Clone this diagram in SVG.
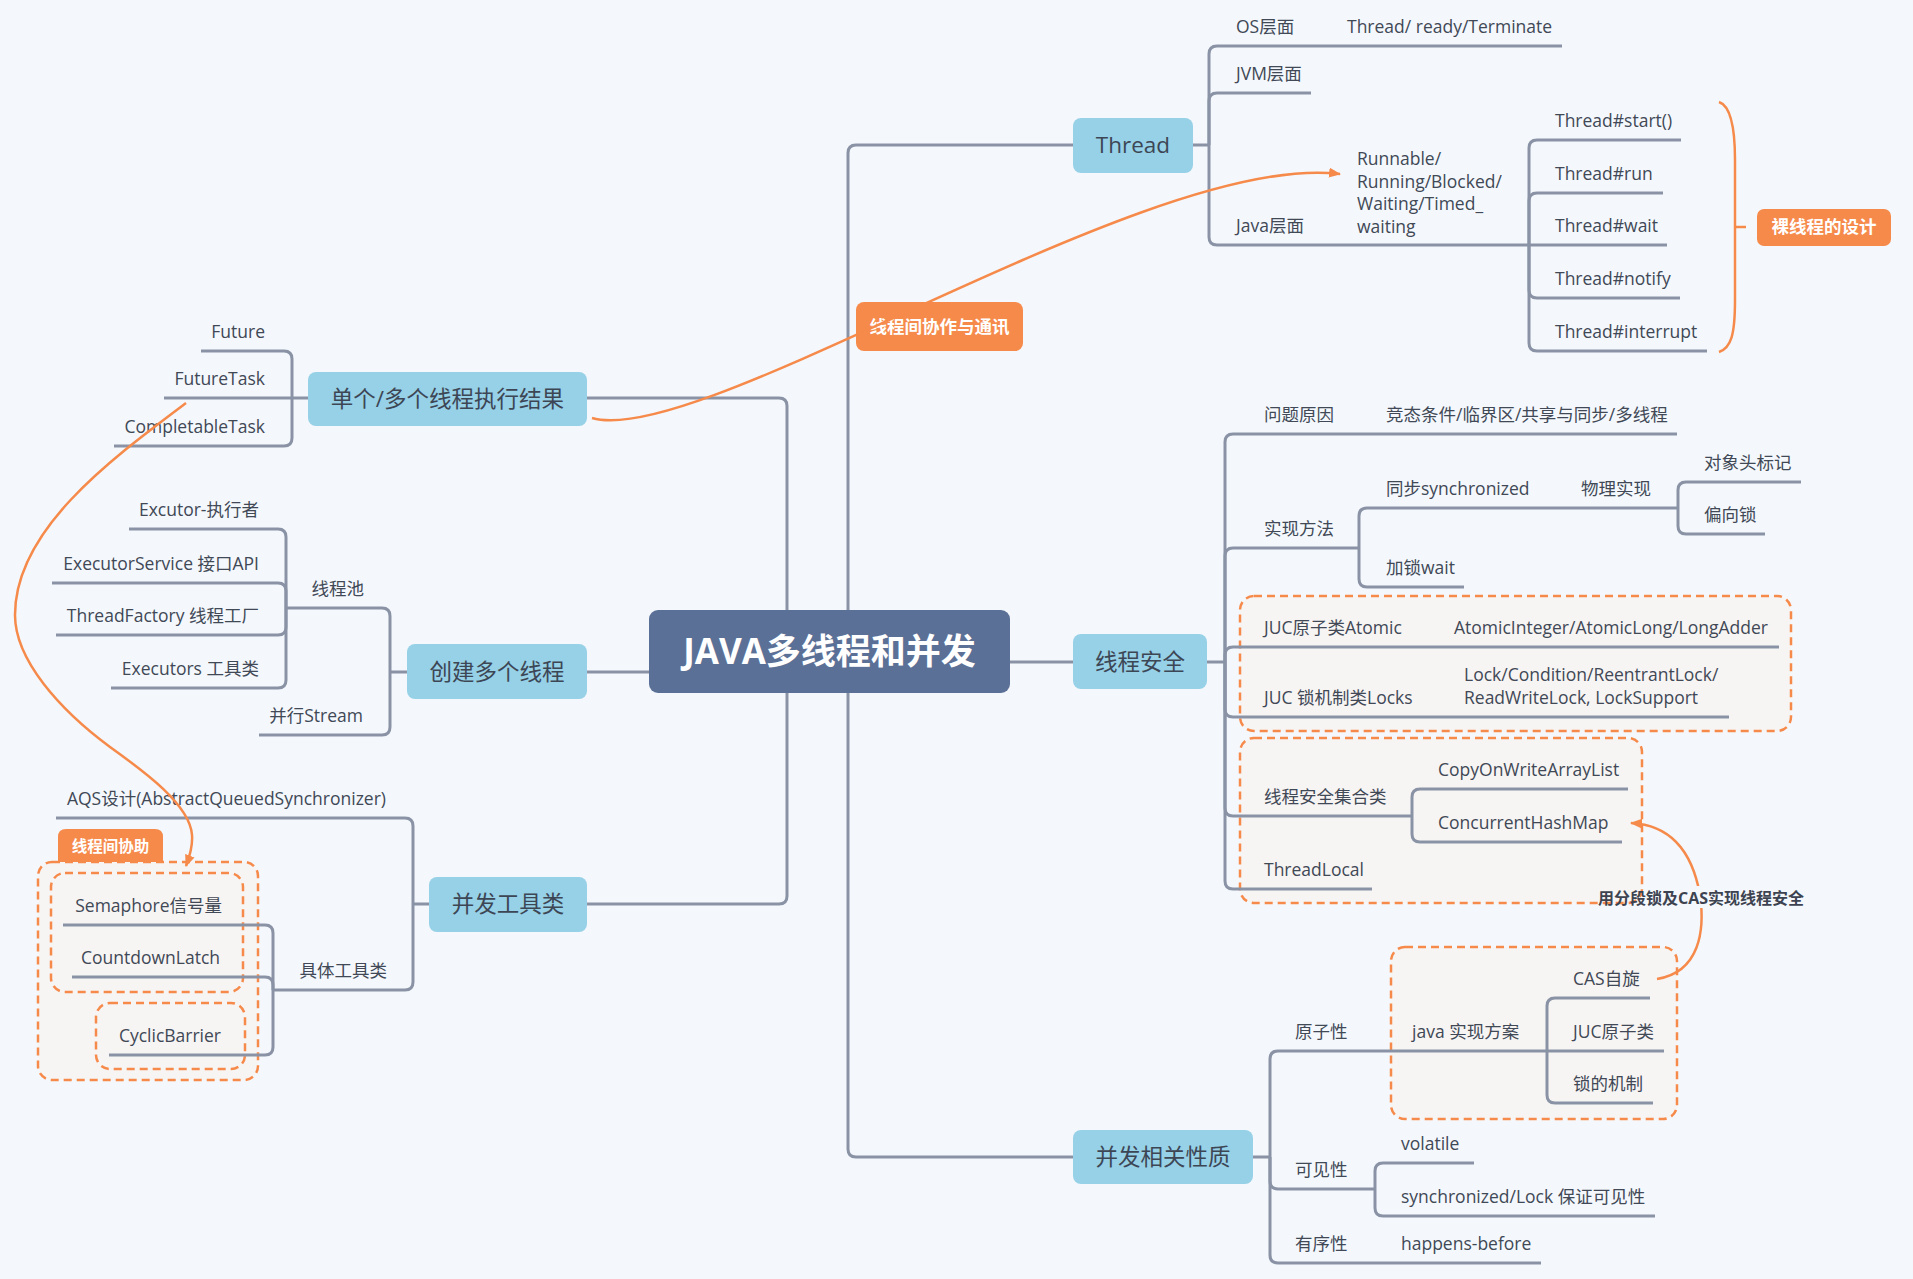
<svg xmlns="http://www.w3.org/2000/svg" width="1913" height="1279" viewBox="0 0 1913 1279">
<style>
.ln{fill:none;stroke:#8a93a5;stroke-width:3}
.t{font-family:"Open Sans","Noto Sans CJK SC",sans-serif;font-size:17.5px;fill:#414856}
.te{text-anchor:end}
.nr{fill:#96d1e7}
.nt{font-family:"Open Sans","Noto Sans CJK SC",sans-serif;font-size:22.5px;fill:#3d4655;text-anchor:middle}
.box{fill:#f7f5f3;stroke:#f68a4b;stroke-width:2.5;stroke-dasharray:8 5}
.lr{fill:#f68a4b}
.lt{font-family:"Open Sans","Noto Sans CJK SC",sans-serif;font-weight:bold;font-size:17.5px;fill:#fff;text-anchor:middle}
.cv{fill:none;stroke:#f68a4b;stroke-width:2.5}
</style>
<defs>
<marker id="ah" markerWidth="12" markerHeight="10" refX="11" refY="5" orient="auto" markerUnits="userSpaceOnUse"><path d="M0,0 L12,5 L0,10 z" fill="#f68a4b"/></marker>
</defs>
<rect width="1913" height="1279" fill="#f4f8fc"/>

<g id="boxes">
<rect class="box" x="1240" y="596" width="551" height="135" rx="14"/>
<rect class="box" x="1240" y="738" width="402" height="165" rx="14"/>
<rect class="box" x="1391" y="947" width="286" height="172" rx="14"/>
<rect class="box" x="38" y="862" width="220" height="218" rx="14"/>
<rect class="box" x="51" y="873" width="192" height="119" rx="14"/>
<rect class="box" x="96" y="1003" width="149" height="66" rx="14"/>
</g>

<g id="connectors">
<path class="ln" d="M1073,145 H856 Q848,145 848,153 V1149 Q848,1157 856,1157 H1073"/>
<path class="ln" d="M1010,662 H1073"/>
<path class="ln" d="M586,398 H779 Q787,398 787,406 V896 Q787,904 779,904 H586"/>
<path class="ln" d="M649,672 H586"/>
<path class="ln" d="M1193,145 H1209"/>
<path class="ln" d="M1209,145 V54 Q1209,46 1217,46 H1562"/>
<path class="ln" d="M1209,145 V101 Q1209,93 1217,93 H1311"/>
<path class="ln" d="M1209,145 V237 Q1209,245 1217,245 H1529"/>
<path class="ln" d="M1529,245 V148 Q1529,140 1537,140 H1681"/>
<path class="ln" d="M1529,245 V201 Q1529,193 1537,193 H1663"/>
<path class="ln" d="M1529,245 H1667"/>
<path class="ln" d="M1529,245 V290 Q1529,298 1537,298 H1680"/>
<path class="ln" d="M1529,245 V343 Q1529,351 1537,351 H1707"/>
<path class="ln" d="M1207,662 H1225"/>
<path class="ln" d="M1225,662 V442 Q1225,434 1233,434 H1677"/>
<path class="ln" d="M1225,662 V556 Q1225,548 1233,548 H1359"/>
<path class="ln" d="M1359,548 V516 Q1359,508 1367,508 H1678"/>
<path class="ln" d="M1678,508 V490 Q1678,482 1686,482 H1801"/>
<path class="ln" d="M1678,508 V526 Q1678,534 1686,534 H1765"/>
<path class="ln" d="M1359,548 V579 Q1359,587 1367,587 H1464"/>
<path class="ln" d="M1225,662 V655 Q1225,647 1233,647 H1779"/>
<path class="ln" d="M1225,662 V709 Q1225,717 1233,717 H1729"/>
<path class="ln" d="M1225,662 V808 Q1225,816 1233,816 H1412"/>
<path class="ln" d="M1412,816 V797 Q1412,789 1420,789 H1628"/>
<path class="ln" d="M1412,816 V834 Q1412,842 1420,842 H1622"/>
<path class="ln" d="M1225,662 V881 Q1225,889 1233,889 H1372"/>
<path class="ln" d="M1253,1157 H1270"/>
<path class="ln" d="M1270,1157 V1059 Q1270,1051 1278,1051 H1547"/>
<path class="ln" d="M1547,1051 V1006 Q1547,998 1555,998 H1650"/>
<path class="ln" d="M1547,1051 H1664"/>
<path class="ln" d="M1547,1051 V1095 Q1547,1103 1555,1103 H1653"/>
<path class="ln" d="M1270,1157 V1181 Q1270,1189 1278,1189 H1375"/>
<path class="ln" d="M1375,1189 V1171 Q1375,1163 1383,1163 H1474"/>
<path class="ln" d="M1375,1189 V1208 Q1375,1216 1383,1216 H1655"/>
<path class="ln" d="M1270,1157 V1255 Q1270,1263 1278,1263 H1541"/>
<path class="ln" d="M308,398 H292"/>
<path class="ln" d="M292,398 V359 Q292,351 284,351 H201"/>
<path class="ln" d="M292,398 H164"/>
<path class="ln" d="M292,398 V438 Q292,446 284,446 H114"/>
<path class="ln" d="M407,672 H390"/>
<path class="ln" d="M390,672 V616 Q390,608 382,608 H286"/>
<path class="ln" d="M286,608 V537 Q286,529 278,529 H129"/>
<path class="ln" d="M286,608 V591 Q286,583 278,583 H52"/>
<path class="ln" d="M286,608 V627 Q286,635 278,635 H56"/>
<path class="ln" d="M286,608 V680 Q286,688 278,688 H111"/>
<path class="ln" d="M390,672 V727 Q390,735 382,735 H259"/>
<path class="ln" d="M429,904 H413"/>
<path class="ln" d="M413,904 V826 Q413,818 405,818 H56"/>
<path class="ln" d="M413,904 V982 Q413,990 405,990 H273"/>
<path class="ln" d="M273,990 V933 Q273,925 265,925 H63"/>
<path class="ln" d="M273,990 V985 Q273,977 265,977 H72"/>
<path class="ln" d="M273,990 V1047 Q273,1055 265,1055 H109"/>
</g>

<g id="center">
<rect x="649" y="610" width="361" height="83" rx="9" fill="#5b7096"/>
<text x="829.5" y="664" font-family="'Open Sans','Noto Sans CJK SC',sans-serif" font-weight="bold" font-size="35" fill="#fff" text-anchor="middle">JAVA多线程和并发</text>
</g>

<g id="n-thread"><rect class="nr" x="1073" y="118" width="120" height="55" rx="8"/><text class="nt" x="1133" y="153">Thread</text></g>
<g id="n-safe"><rect class="nr" x="1073" y="634" width="134" height="55" rx="8"/><text class="nt" x="1140" y="670">线程安全</text></g>
<g id="n-prop"><rect class="nr" x="1073" y="1130" width="180" height="54" rx="8"/><text class="nt" x="1163" y="1165">并发相关性质</text></g>
<g id="n-result"><rect class="nr" x="308" y="372" width="279" height="54" rx="8"/><text class="nt" x="447.5" y="407">单个/多个线程执行结果</text></g>
<g id="n-create"><rect class="nr" x="407" y="644" width="180" height="55" rx="8"/><text class="nt" x="497" y="680">创建多个线程</text></g>
<g id="n-tools"><rect class="nr" x="429" y="877" width="158" height="55" rx="8"/><text class="nt" x="508" y="912">并发工具类</text></g>

<g id="thread-children">
<text class="t" x="1236" y="33">OS层面</text>
<text class="t" x="1347" y="33">Thread/ ready/Terminate</text>
<text class="t" x="1236" y="80">JVM层面</text>
<text class="t" x="1236" y="232">Java层面</text>
<text class="t" x="1357" y="165">Runnable/</text>
<text class="t" x="1357" y="188">Running/Blocked/</text>
<text class="t" x="1357" y="210">Waiting/Timed_</text>
<text class="t" x="1357" y="233">waiting</text>
<text class="t" x="1555" y="127">Thread#start()</text>
<text class="t" x="1555" y="180">Thread#run</text>
<text class="t" x="1555" y="232">Thread#wait</text>
<text class="t" x="1555" y="285">Thread#notify</text>
<text class="t" x="1555" y="338">Thread#interrupt</text>
</g>

<g id="safe-children">
<text class="t" x="1264" y="421">问题原因</text>
<text class="t" x="1386" y="421">竞态条件/临界区/共享与同步/多线程</text>
<text class="t" x="1264" y="535">实现方法</text>
<text class="t" x="1386" y="495">同步synchronized</text>
<text class="t" x="1581" y="495">物理实现</text>
<text class="t" x="1704" y="469">对象头标记</text>
<text class="t" x="1704" y="521">偏向锁</text>
<text class="t" x="1386" y="574">加锁wait</text>
<text class="t" x="1264" y="634">JUC原子类Atomic</text>
<text class="t" x="1454" y="634">AtomicInteger/AtomicLong/LongAdder</text>
<text class="t" x="1264" y="704">JUC 锁机制类Locks</text>
<text class="t" x="1464" y="681">Lock/Condition/ReentrantLock/</text>
<text class="t" x="1464" y="704">ReadWriteLock, LockSupport</text>
<text class="t" x="1264" y="803">线程安全集合类</text>
<text class="t" x="1438" y="776">CopyOnWriteArrayList</text>
<text class="t" x="1438" y="829">ConcurrentHashMap</text>
<text class="t" x="1264" y="876">ThreadLocal</text>
</g>

<g id="prop-children">
<text class="t" x="1295" y="1038">原子性</text>
<text class="t" x="1412" y="1038">java 实现方案</text>
<text class="t" x="1573" y="985">CAS自旋</text>
<text class="t" x="1573" y="1038">JUC原子类</text>
<text class="t" x="1573" y="1090">锁的机制</text>
<text class="t" x="1295" y="1176">可见性</text>
<text class="t" x="1401" y="1150">volatile</text>
<text class="t" x="1401" y="1203">synchronized/Lock 保证可见性</text>
<text class="t" x="1295" y="1250">有序性</text>
<text class="t" x="1401" y="1250">happens-before</text>
</g>

<g id="result-children">
<text class="t te" x="265" y="338">Future</text>
<text class="t te" x="265" y="385">FutureTask</text>
<text class="t te" x="265" y="433">CompletableTask</text>
</g>

<g id="create-children">
<text class="t te" x="364" y="595">线程池</text>
<text class="t te" x="259" y="516">Excutor-执行者</text>
<text class="t te" x="259" y="570">ExecutorService 接口API</text>
<text class="t te" x="259" y="622">ThreadFactory 线程工厂</text>
<text class="t te" x="259" y="675">Executors 工具类</text>
<text class="t te" x="363" y="722">并行Stream</text>
</g>

<g id="tools-children">
<text class="t te" x="386" y="805">AQS设计(AbstractQueuedSynchronizer)</text>
<text class="t te" x="387" y="977">具体工具类</text>
<text class="t te" x="222" y="912">Semaphore信号量</text>
<text class="t te" x="220" y="964">CountdownLatch</text>
<text class="t te" x="221" y="1042">CyclicBarrier</text>
</g>

<g id="label-naked">
<path class="cv" d="M1719,102 C1731,106 1735,130 1735,160 V300 C1735,335 1731,348 1719,352 M1735,227 H1746"/>
<rect class="lr" x="1757" y="209" width="134" height="37" rx="7"/>
<text class="lt" x="1824" y="233">裸线程的设计</text>
</g>

<g id="label-coop">
<rect class="lr" x="856" y="302" width="167" height="49" rx="8"/>
<text class="lt" x="939.5" y="333">线程间协作与通讯</text>
</g>

<g id="label-assist">
<path class="lr" d="M58,862 V837 Q58,829 66,829 H155 Q163,829 163,837 V862 Z"/>
<text class="lt" x="110.5" y="852" style="font-size:15.5px">线程间协助</text>
</g>

<g id="relations">
<path class="cv" marker-end="url(#ah)" d="M592,418 C700,450 1150,150 1340,174"/>
<path class="cv" marker-end="url(#ah)" d="M186,403 C110,460 15,530 15,615 C15,660 60,710 110,747 C145,772 190,805 192,835 C193,848 189,858 186,866"/>
<path class="cv" marker-end="url(#ah)" d="M1657,979 C1700,972 1705,930 1700,895 C1692,850 1670,825 1631,823"/>
<rect x="1688" y="886" width="24" height="22" fill="#f4f8fc"/>
<text x="1701" y="904" font-family="'Open Sans','Noto Sans CJK SC',sans-serif" font-weight="bold" font-size="16" fill="#3d4350" text-anchor="middle">用分段锁及CAS实现线程安全</text>
</g>
</svg>
